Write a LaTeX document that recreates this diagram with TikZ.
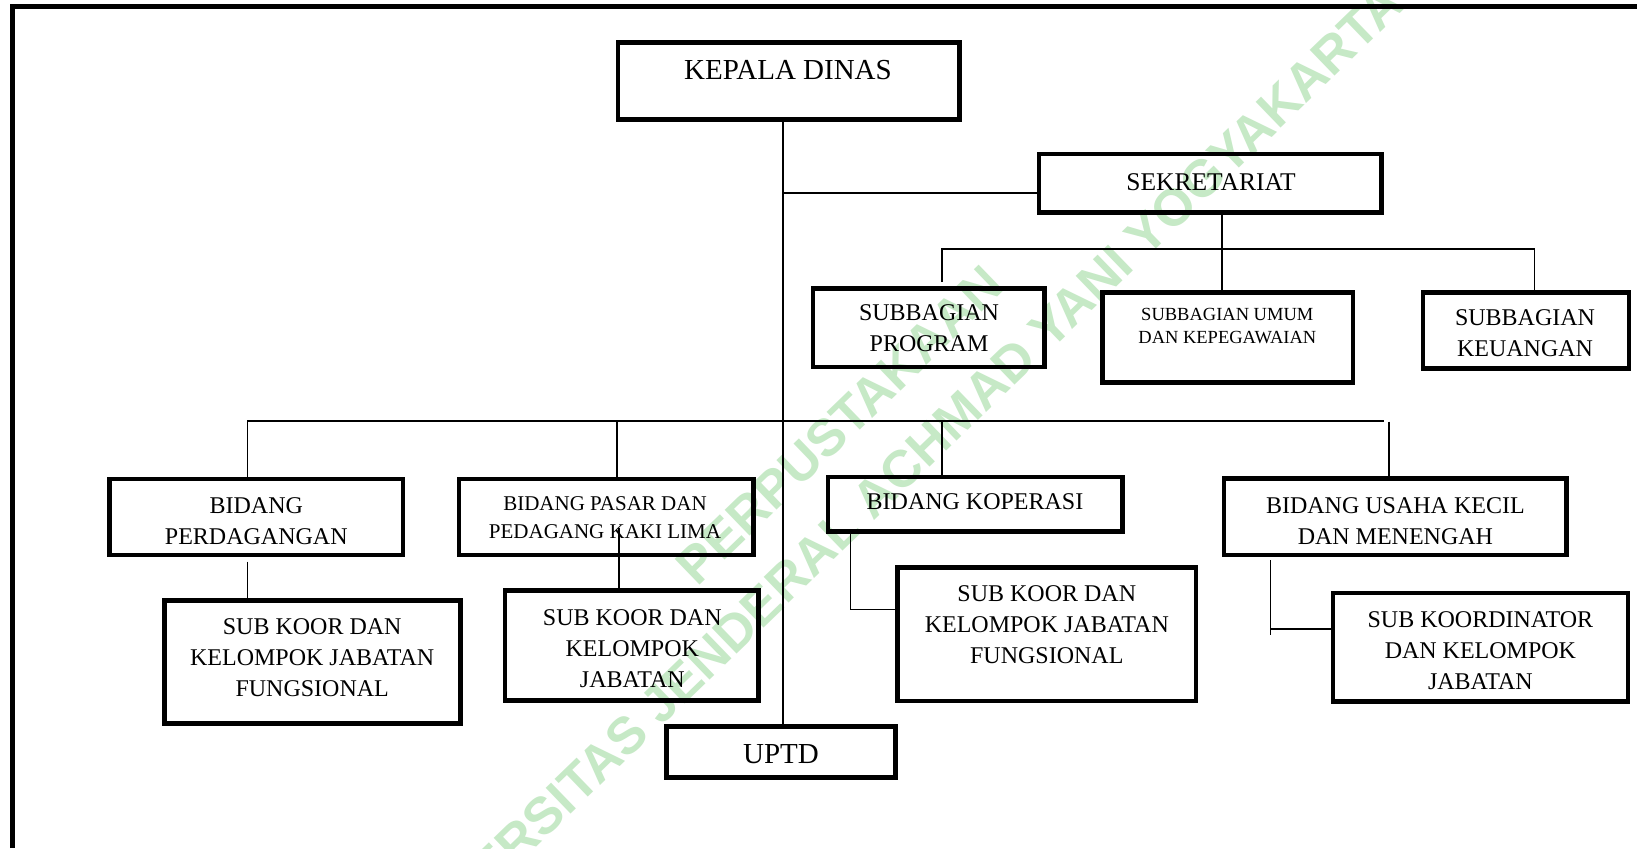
\documentclass[tikz,border=0pt]{standalone}
\usepackage{fontspec}
\setmainfont{Liberation Serif}
\newfontfamily\wmfont{Liberation Sans}
\usetikzlibrary{calc}
\definecolor{wmgreen}{RGB}{198,233,198}
\begin{document}
\begin{tikzpicture}[x=1pt,y=-1pt,
  box/.style={draw, line width=4.6pt, inner sep=0pt},
  conn/.style={line width=1.7pt},
  lbl/.style={align=center, inner sep=0pt},
  fA/.style={lbl, font=\fontsize{29}{35}\selectfont},
  fB/.style={lbl, font=\fontsize{25.5}{31}\selectfont},
  fC/.style={lbl, font=\fontsize{24}{31}\selectfont},
  fD/.style={lbl, font=\fontsize{21}{28.4}\selectfont},
  fE/.style={lbl, font=\fontsize{18.5}{23}\selectfont},
  wm/.style={inner sep=0pt, text=wmgreen, rotate=44, font=\wmfont\bfseries\fontsize{52}{60}\selectfont}
]
\useasboundingbox (0,0) rectangle (1637,848);
\fill[white] (0,0) rectangle (1637,848);

% watermark
\node[wm] (wm1) at (840,425) {PERPUSTAKAAN};
\node[wm] (wm2) at (892,479) {UNIVERSITAS JENDERAL ACHMAD YANI YOGYAKARTA};

% frame
\draw[line width=5pt, line join=miter] (12.5,848) -- (12.5,6.7) -- (1637,6.7);

% boxes
\node[box, minimum width=341.6pt, minimum height=77.1pt] (kd) at (788.7,80.85) {};
\node[box, minimum width=342.5pt, minimum height=58.7pt] (sek) at (1210.25,183.35) {};
\node[box, minimum width=231.4pt, minimum height=78.7pt] (sp) at (928.7,327.65) {};
\node[box, minimum width=250.1pt, minimum height=90.4pt] (su) at (1227.75,337.5) {};
\node[box, minimum width=206.2pt, minimum height=76.4pt] (sk) at (1525.9,330.5) {};
\node[box, minimum width=293.5pt, minimum height=76pt] (bp) at (256.25,517) {};
\node[box, minimum width=294.6pt, minimum height=76pt] (bps) at (606.2,517) {};
\node[box, minimum width=294.6pt, minimum height=54.9pt] (bk) at (975.4,504.25) {};
\node[box, minimum width=342.1pt, minimum height=76.7pt] (bu) at (1395.15,516.65) {};
\node[box, minimum width=296.4pt, minimum height=123.1pt] (sk1) at (312.5,662.15) {};
\node[box, minimum width=253.9pt, minimum height=109.8pt] (sk2) at (631.75,645.5) {};
\node[box, minimum width=298.2pt, minimum height=133.7pt] (sk3) at (1046.8,634.15) {};
\node[box, minimum width=295.1pt, minimum height=108.7pt] (skd) at (1480.35,647.35) {};
\node[box, minimum width=229.4pt, minimum height=51.4pt] (uptd) at (781,752) {};

% texts
\node[fA] (kd-t) at (788,70) {KEPALA DINAS};
\node[fB] (sek-t) at (1211,182.5) {SEKRETARIAT};
\node[fC] (sp-t) at (929,328.3) {SUBBAGIAN\\PROGRAM};
\node[fE] (su-t) at (1227.3,326.5) {SUBBAGIAN UMUM\\DAN KEPEGAWAIAN};
\node[fC] (sk-t) at (1525,333) {SUBBAGIAN\\KEUANGAN};
\node[fC] (bp-t) at (256.3,521) {BIDANG\\PERDAGANGAN};
\node[fD] (bps-t) at (605,517.5) {BIDANG PASAR DAN\\PEDAGANG KAKI LIMA};
\node[fC] (bk-t) at (975,502) {BIDANG KOPERASI};
\node[fC] (bu-t) at (1395.4,521.3) {BIDANG USAHA KECIL\\DAN MENENGAH};
\node[fC] (sk1-t) at (312.2,658) {SUB KOOR DAN\\KELOMPOK JABATAN\\FUNGSIONAL};
\node[fC] (sk2-t) at (632.3,649) {SUB KOOR DAN\\KELOMPOK\\JABATAN};
\node[fC] (sk3-t) at (1046.8,624.8) {SUB KOOR DAN\\KELOMPOK JABATAN\\FUNGSIONAL};
\node[fC] (skd-t) at (1480.4,650.5) {SUB KOORDINATOR\\DAN KELOMPOK\\JABATAN};
\node[fA] (uptd-t) at (781,754.3) {UPTD};

% connectors
\coordinate (spine) at (783,0);
\draw[conn] (kd.south -| spine) -- (uptd.north -| spine);
\coordinate (jsek) at (783,192.7);
\draw[conn] (jsek) -- (jsek -| sek.west);
\coordinate (sekx) at (1222,249.3);
\draw[conn] (sek.south -| sekx) -- (su.north -| sekx);
\coordinate (b1l) at (941.7,249.3);
\coordinate (b1r) at (1534.5,249.3);
\draw[conn] ($(sp.north -| b1l)+(0,-4.3)$) -- (b1l) -- (b1r) -- (sk.north -| b1r);

\coordinate (b2l) at (247.4,420.7);
\coordinate (b2r) at (1384.4,420.7);
\draw[conn] (b2l) -- (b2r);
\draw[conn] (b2l) -- (bp.north -| b2l);
\coordinate (d2) at (617,420.7);
\draw[conn] (d2) -- (bps.north -| d2);
\coordinate (d3) at (942,420.7);
\draw[conn] (d3) -- (bk.north -| d3);
\coordinate (d4) at (1389,421.7);
\draw[conn] (d4) -- (bu.north -| d4);

\draw[conn] ($(bp.south -| b2l)+(0,4.4)$) -- (sk1.north -| b2l);
\coordinate (pk) at (618.7,528);
\draw[conn] (pk) -- (sk2.north -| pk);
\coordinate (k3) at (850.4,609.5);
\draw[conn] (bk.south -| k3) -- (k3) -- (k3 -| sk3.west);
\coordinate (u3) at (1270.4,629.3);
\draw[conn] ($(bu.south -| u3)+(0,3)$) -- ($(u3)+(0,5.7)$);
\draw[conn] (u3) -- (u3 -| skd.west);
\end{tikzpicture}
\end{document}
